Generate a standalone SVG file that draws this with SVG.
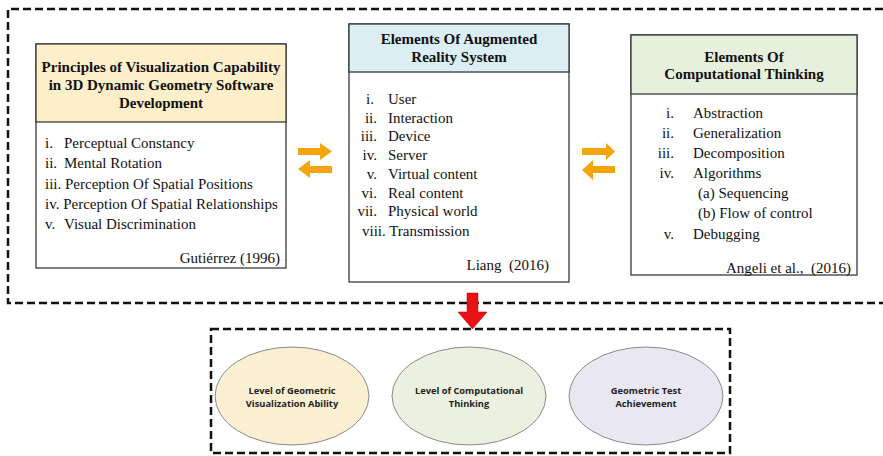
<svg xmlns="http://www.w3.org/2000/svg" width="883" height="456" viewBox="0 0 883 456">
<style>
.box{fill:#fff;stroke:#3a3a3a;stroke-width:1.3}
.hd{stroke:#3a3a3a;stroke-width:1.3}
.t{font-family:"Liberation Serif","Times New Roman",serif;font-size:15px;fill:#111;white-space:pre}
.b{font-weight:bold;text-anchor:middle}
.r{text-anchor:end}
.e{stroke:#8a8a8a;stroke-width:1}
.et{font-family:"Open Sans","Liberation Sans",sans-serif;font-size:9.3px;font-weight:bold;fill:#222;text-anchor:middle}
.dash{fill:none;stroke:#111;stroke-width:2.5;stroke-dasharray:8 4}
.or{fill:#f5a50c}
</style>
<g id="connectors">
<path class="dash" d="M883 9 H8 V303 H883"/>
<path class="dash" d="M211 329 H730 V453 H211 Z"/>
<path fill="#e81212" stroke="#b00" stroke-width="0.5" d="M467 293 H478 V312 H487 L472.5 329 L458 312 H467 Z"/>
<g transform="translate(298,143)">
<path class="or" d="M0 5 H22 V0 L34 8.5 L22 17 V12 H0 Z"/>
<path class="or" d="M34 23 H12 V17 L0 26 L12 35 V30 H34 Z"/>
</g>
<g transform="translate(582,144)">
<path class="or" d="M0 4 H24 V-1 L33 7.5 L24 16 V11 H0 Z"/>
<path class="or" d="M33 22 H11 V16 L0 26 L11 36 V29 H33 Z"/>
</g>
</g>
<g id="box1">
<rect class="box" x="36" y="44" width="250" height="224"/>
<rect x="36" y="44" width="250" height="78" fill="#fcefc9" class="hd"/>
<text class="t b" x="161" y="72">Principles of Visualization Capability</text>
<text class="t b" x="161" y="90">in 3D Dynamic Geometry Software</text>
<text class="t b" x="161" y="108">Development</text>
<text class="t" x="45" y="148">i.</text><text class="t" x="64" y="148">Perceptual Constancy</text>
<text class="t" x="45" y="168">ii.</text><text class="t" x="64" y="168">Mental Rotation</text>
<text class="t" x="45" y="189">iii. Perception Of Spatial Positions</text>
<text class="t" x="45" y="209">iv. Perception Of Spatial Relationships</text>
<text class="t" x="45" y="229">v.</text><text class="t" x="64" y="229">Visual Discrimination</text>
<text class="t r" x="280" y="263">Gutiérrez (1996)</text>
</g>
<g id="box2">
<rect class="box" x="349" y="24" width="220" height="258"/>
<rect x="349" y="24" width="220" height="48" fill="#dbeef4" class="hd"/>
<text class="t b" x="459" y="44">Elements Of Augmented</text>
<text class="t b" x="459" y="62">Reality System</text>
<text class="t r" x="374" y="104">i.</text><text class="t" x="388" y="104">User</text>
<text class="t r" x="377" y="123">ii.</text><text class="t" x="388" y="123">Interaction</text>
<text class="t r" x="377" y="141">iii.</text><text class="t" x="388" y="141">Device</text>
<text class="t r" x="377" y="160">iv.</text><text class="t" x="388" y="160">Server</text>
<text class="t r" x="377" y="179">v.</text><text class="t" x="388" y="179">Virtual content</text>
<text class="t r" x="377" y="198">vi.</text><text class="t" x="388" y="198">Real content</text>
<text class="t r" x="377" y="216">vii.</text><text class="t" x="388" y="216">Physical world</text>
<text class="t" x="362" y="236">viii. Transmission</text>
<text class="t r" x="549" y="270">Liang  (2016)</text>
</g>
<g id="box3">
<rect class="box" x="631" y="35" width="226" height="240"/>
<rect x="631" y="35" width="226" height="59" fill="#e7efdd" class="hd"/>
<text class="t b" x="744" y="62">Elements Of</text>
<text class="t b" x="744" y="79">Computational Thinking</text>
<text class="t r" x="674" y="118">i.</text><text class="t" x="693" y="118">Abstraction</text>
<text class="t r" x="674" y="138">ii.</text><text class="t" x="693" y="138">Generalization</text>
<text class="t r" x="674" y="158">iii.</text><text class="t" x="693" y="158">Decomposition</text>
<text class="t r" x="674" y="178">iv.</text><text class="t" x="693" y="178">Algorithms</text>
<text class="t" x="698" y="198">(a) Sequencing</text>
<text class="t" x="698" y="218">(b) Flow of control</text>
<text class="t r" x="674" y="239">v.</text><text class="t" x="693" y="239">Debugging</text>
<text class="t r" x="851" y="273">Angeli et al.,  (2016)</text>
</g>
<g id="oval1">
<ellipse class="e" cx="292" cy="396" rx="77" ry="49" fill="#fbf0d2"/>
<text class="et" x="292" y="394">Level of Geometric</text>
<text class="et" x="292" y="407">Visualization Ability</text>
</g>
<g id="oval2">
<ellipse class="e" cx="469" cy="396" rx="77" ry="49" fill="#ebf0e0"/>
<text class="et" x="469" y="394">Level of Computational</text>
<text class="et" x="469" y="407">Thinking</text>
</g>
<g id="oval3">
<ellipse class="e" cx="646" cy="396" rx="77" ry="49" fill="#e9e8f2"/>
<text class="et" x="646" y="394">Geometric Test</text>
<text class="et" x="646" y="407">Achievement</text>
</g>
</svg>
